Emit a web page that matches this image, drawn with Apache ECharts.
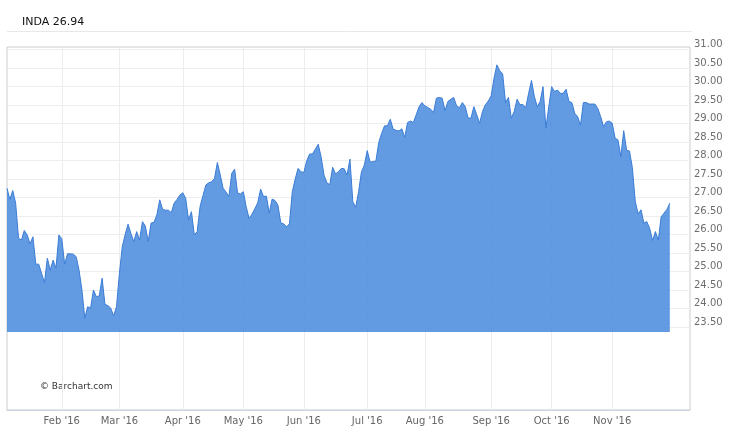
<!DOCTYPE html>
<html><head><meta charset="utf-8">
<script src="https://cdn.jsdelivr.net/npm/echarts@6/dist/echarts.min.js"></script>
<style>html,body{margin:0;padding:0;background:#fff}#c{width:750px;height:433px}</style>
</head><body><div id="c"></div>
<script>
const titleText = 'INDA 26.94';
const watermarkText = '\u00A9 Barchart.com';

// Trading days per month (year 2016); December days are the empty tail of the axis
const tradingMonths = ['2016-01','2016-02','2016-03','2016-04','2016-05','2016-06','2016-07','2016-08','2016-09','2016-10','2016-11','2016-12'];
const tradingDays = [
  [4,5,6,7,8,11,12,13,14,15,19,20,21,22,25,26,27,28,29],
  [1,2,3,4,5,8,9,10,11,12,16,17,18,19,22,23,24,25,26,29],
  [1,2,3,4,7,8,9,10,11,14,15,16,17,18,21,22,23,24,28,29,30,31],
  [1,4,5,6,7,8,11,12,13,14,15,18,19,20,21,22,25,26,27,28,29],
  [2,3,4,5,6,9,10,11,12,13,16,17,18,19,20,23,24,25,26,27,31],
  [1,2,3,6,7,8,9,10,13,14,15,16,17,20,21,22,23,24,27,28,29,30],
  [1,5,6,7,8,11,12,13,14,15,18,19,20,21,22,25,26,27,28,29],
  [1,2,3,4,5,8,9,10,11,12,15,16,17,18,19,22,23,24,25,26,29,30,31],
  [1,2,6,7,8,9,12,13,14,15,16,19,20,21,22,23,26,27,28,29,30],
  [3,4,5,6,7,10,11,12,13,14,17,18,19,20,21,24,25,26,27,28,31],
  [1,2,3,4,7,8,9,10,11,14,15,16,17,18,21,22,23,25,28,29,30],
  [1,2,5,6,7,8,9]
];

// Closing prices, Jan 4 2016 .. Nov 30 2016
const prices = [
  27.25,26.95,27.19,26.85,25.90,25.85,26.11,25.99,25.75,25.94,
  25.20,25.20,24.95,24.70,25.36,25.04,25.31,25.09,25.99,25.89,
  25.20,25.48,25.48,25.47,25.40,25.04,24.50,23.74,24.05,24.01,
  24.50,24.32,24.34,24.82,24.11,24.08,24.01,23.80,24.05,24.95,
  25.67,26.00,26.28,26.03,25.81,26.08,25.85,26.35,26.23,25.81,
  26.31,26.33,26.53,26.94,26.68,26.66,26.66,26.59,26.85,26.95,
  27.07,27.13,26.98,26.40,26.62,25.99,26.08,26.76,27.05,27.34,
  27.40,27.43,27.52,27.95,27.61,27.25,27.15,27.03,27.66,27.77,
  27.12,27.10,27.16,26.75,26.44,26.55,26.70,26.86,27.23,27.03,
  27.04,26.58,26.96,26.92,26.80,26.32,26.29,26.21,26.29,27.16,
  27.50,27.79,27.70,27.68,27.99,28.18,28.18,28.31,28.44,28.10,
  27.61,27.40,27.35,27.82,27.64,27.70,27.79,27.78,27.61,28.04,
  26.89,26.74,27.16,27.70,27.88,28.27,27.96,27.97,27.99,28.49,
  28.74,28.94,28.94,29.12,28.85,28.82,28.80,28.86,28.63,29.03,
  29.07,29.03,29.24,29.46,29.57,29.48,29.44,29.39,29.30,29.69,
  29.71,29.69,29.35,29.60,29.66,29.71,29.48,29.43,29.57,29.46,
  29.15,29.15,29.46,29.24,29.01,29.33,29.51,29.61,29.75,30.23,
  30.59,30.43,30.34,29.57,29.71,29.15,29.33,29.66,29.51,29.52,
  29.43,29.82,30.17,29.73,29.46,29.60,30.00,28.88,29.46,30.00,
  29.87,29.91,29.82,29.82,29.93,29.60,29.57,29.28,29.19,28.96,
  29.57,29.57,29.53,29.53,29.53,29.41,29.19,28.92,29.05,29.07,
  29.01,28.61,28.56,28.11,28.81,28.28,28.26,27.81,26.90,26.56,
  26.67,26.31,26.35,26.17,25.84,26.08,25.85,26.48,26.58,26.68,
  26.85
];

const monthTickDates = ['2016-02-01','2016-03-01','2016-04-01','2016-05-02','2016-06-01','2016-07-01','2016-08-01','2016-09-01','2016-10-03','2016-11-01'];
const monthTickLabels = ["Feb '16","Mar '16","Apr '16","May '16","Jun '16","Jul '16","Aug '16","Sep '16","Oct '16","Nov '16"];

const yLabelMin = 23.5, yLabelMax = 31.0, yStep = 0.5;
const yAxisMin = 23.0, yAxisMax = 31.073, areaBase = 23.365;

const categories = [];
tradingMonths.forEach((m, k) => tradingDays[k].forEach(d => categories.push(m + '-' + String(d).padStart(2,'0'))));
const tickMap = {};
monthTickDates.forEach((d, k) => { tickMap[d] = monthTickLabels[k]; });
const isTick = (idx, val) => tickMap[categories[idx]] !== undefined;

const nTicks = Math.round((yAxisMax - yAxisMin) / yStep) + 2;
const splitColors = [];
for (let k = 0; k < nTicks; k++) {
  const v = yAxisMin + k * yStep;
  splitColors.push(v >= yLabelMin - 1e-6 && v <= yLabelMax + 1e-6 ? '#eeeeee' : 'rgba(0,0,0,0)');
}

const chart = echarts.init(document.getElementById('c'), null, {renderer: 'canvas'});
const FONT = 'DejaVu Sans';
chart.setOption({
  animation: false,
  grid: [
    {left: 7, width: 683, top: 47, height: 298.5, show: false},
    {left: 7, width: 683, top: 47, height: 363, show: true, borderColor: '#cccccc', borderWidth: 1, backgroundColor: 'transparent'}
  ],
  xAxis: [
    {type: 'category', gridIndex: 0, data: categories, boundaryGap: false, show: false},
    {type: 'category', gridIndex: 1, data: categories, boundaryGap: false,
     axisLine: {show: true, lineStyle: {color: '#c6d4e3'}},
     axisTick: {show: false},
     axisLabel: {interval: isTick, formatter: v => tickMap[v] || '', color: '#666', fontFamily: FONT, fontSize: 10, margin: 6},
     splitLine: {show: true, interval: isTick, lineStyle: {color: '#ececec', width: 1}}}
  ],
  yAxis: [
    {type: 'value', gridIndex: 0, position: 'right', min: yAxisMin, max: yAxisMax, interval: yStep,
     axisLine: {show: false}, axisTick: {show: false},
     axisLabel: {margin: 4, color: '#6e6e6e', fontFamily: FONT, fontSize: 10, verticalAlign: 'bottom', lineHeight: 10,
       formatter: v => (v >= yLabelMin - 1e-6 && v <= yLabelMax + 1e-6) ? v.toFixed(2) : ''},
     splitLine: {show: true, lineStyle: {color: splitColors, width: 1}}},
    {type: 'value', gridIndex: 1, show: false, splitLine: {show: false}}
  ],
  graphic: [
    {type: 'line', shape: {x1: 7, y1: 31.5, x2: 692, y2: 31.5}, style: {stroke: '#e8e8e8', lineWidth: 1}, silent: true},
    {type: 'text', x: 22, y: 22, style: {text: titleText, fill: '#111', font: '11px "DejaVu Sans"', verticalAlign: 'middle'}, silent: true},
    {type: 'text', x: 40, y: 387, style: {text: watermarkText, fill: '#333', font: '9px "DejaVu Sans"', verticalAlign: 'middle'}, silent: true}
  ],
  series: [{
    type: 'line', xAxisIndex: 0, yAxisIndex: 0, data: prices, symbol: 'none', silent: true,
    lineStyle: {color: '#3a7cd6', width: 1},
    areaStyle: {color: 'rgb(72,138,220)', opacity: 0.86, origin: areaBase}
  }]
});
</script></body></html>
